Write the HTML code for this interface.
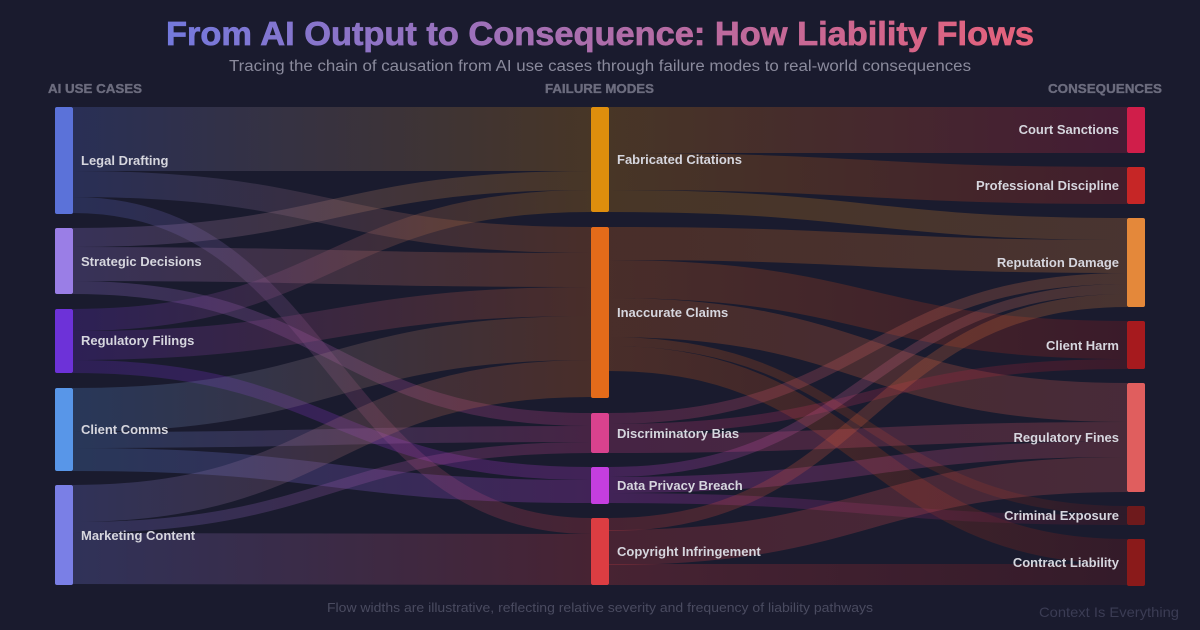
<!DOCTYPE html>
<html>
<head>
<meta charset="utf-8">
<style>
html,body{margin:0;padding:0;background:#1a1b2e;}
svg{display:block;}
text{font-family:"Liberation Sans",sans-serif;}
</style>
</head>
<body>
<svg width="1200" height="630" viewBox="0 0 1200 630" xmlns="http://www.w3.org/2000/svg">
<defs>
<linearGradient id="tg" x1="166" y1="0" x2="1034" y2="0" gradientUnits="userSpaceOnUse">
<stop offset="0" stop-color="#7479dd"/><stop offset="0.5" stop-color="#ad6dab"/><stop offset="1" stop-color="#e6617a"/>
</linearGradient>
<linearGradient id="g1" x1="73" x2="591" y1="0" y2="0" gradientUnits="userSpaceOnUse"><stop offset="0" stop-color="#5b72d9"/><stop offset="1" stop-color="#df8e0d"/></linearGradient>
<linearGradient id="g2" x1="73" x2="591" y1="0" y2="0" gradientUnits="userSpaceOnUse"><stop offset="0" stop-color="#5b72d9"/><stop offset="1" stop-color="#e46b1a"/></linearGradient>
<linearGradient id="g3" x1="73" x2="591" y1="0" y2="0" gradientUnits="userSpaceOnUse"><stop offset="0" stop-color="#5b72d9"/><stop offset="1" stop-color="#dc3d42"/></linearGradient>
<linearGradient id="g4" x1="73" x2="591" y1="0" y2="0" gradientUnits="userSpaceOnUse"><stop offset="0" stop-color="#9a7ee6"/><stop offset="1" stop-color="#df8e0d"/></linearGradient>
<linearGradient id="g5" x1="73" x2="591" y1="0" y2="0" gradientUnits="userSpaceOnUse"><stop offset="0" stop-color="#9a7ee6"/><stop offset="1" stop-color="#e46b1a"/></linearGradient>
<linearGradient id="g6" x1="73" x2="591" y1="0" y2="0" gradientUnits="userSpaceOnUse"><stop offset="0" stop-color="#9a7ee6"/><stop offset="1" stop-color="#d9428e"/></linearGradient>
<linearGradient id="g7" x1="73" x2="591" y1="0" y2="0" gradientUnits="userSpaceOnUse"><stop offset="0" stop-color="#6d32d8"/><stop offset="1" stop-color="#df8e0d"/></linearGradient>
<linearGradient id="g8" x1="73" x2="591" y1="0" y2="0" gradientUnits="userSpaceOnUse"><stop offset="0" stop-color="#6d32d8"/><stop offset="1" stop-color="#e46b1a"/></linearGradient>
<linearGradient id="g9" x1="73" x2="591" y1="0" y2="0" gradientUnits="userSpaceOnUse"><stop offset="0" stop-color="#6d32d8"/><stop offset="1" stop-color="#c43edf"/></linearGradient>
<linearGradient id="g10" x1="73" x2="591" y1="0" y2="0" gradientUnits="userSpaceOnUse"><stop offset="0" stop-color="#5896e8"/><stop offset="1" stop-color="#e46b1a"/></linearGradient>
<linearGradient id="g11" x1="73" x2="591" y1="0" y2="0" gradientUnits="userSpaceOnUse"><stop offset="0" stop-color="#5896e8"/><stop offset="1" stop-color="#d9428e"/></linearGradient>
<linearGradient id="g12" x1="73" x2="591" y1="0" y2="0" gradientUnits="userSpaceOnUse"><stop offset="0" stop-color="#5896e8"/><stop offset="1" stop-color="#c43edf"/></linearGradient>
<linearGradient id="g13" x1="73" x2="591" y1="0" y2="0" gradientUnits="userSpaceOnUse"><stop offset="0" stop-color="#7a7fe6"/><stop offset="1" stop-color="#e46b1a"/></linearGradient>
<linearGradient id="g14" x1="73" x2="591" y1="0" y2="0" gradientUnits="userSpaceOnUse"><stop offset="0" stop-color="#7a7fe6"/><stop offset="1" stop-color="#d9428e"/></linearGradient>
<linearGradient id="g15" x1="73" x2="591" y1="0" y2="0" gradientUnits="userSpaceOnUse"><stop offset="0" stop-color="#7a7fe6"/><stop offset="1" stop-color="#dc3d42"/></linearGradient>
<linearGradient id="g16" x1="609" x2="1127" y1="0" y2="0" gradientUnits="userSpaceOnUse"><stop offset="0" stop-color="#df8e0d"/><stop offset="1" stop-color="#d01e4a"/></linearGradient>
<linearGradient id="g17" x1="609" x2="1127" y1="0" y2="0" gradientUnits="userSpaceOnUse"><stop offset="0" stop-color="#df8e0d"/><stop offset="1" stop-color="#c62626"/></linearGradient>
<linearGradient id="g18" x1="609" x2="1127" y1="0" y2="0" gradientUnits="userSpaceOnUse"><stop offset="0" stop-color="#df8e0d"/><stop offset="1" stop-color="#e4883a"/></linearGradient>
<linearGradient id="g19" x1="609" x2="1127" y1="0" y2="0" gradientUnits="userSpaceOnUse"><stop offset="0" stop-color="#e46b1a"/><stop offset="1" stop-color="#e4883a"/></linearGradient>
<linearGradient id="g20" x1="609" x2="1127" y1="0" y2="0" gradientUnits="userSpaceOnUse"><stop offset="0" stop-color="#e46b1a"/><stop offset="1" stop-color="#a61a1e"/></linearGradient>
<linearGradient id="g21" x1="609" x2="1127" y1="0" y2="0" gradientUnits="userSpaceOnUse"><stop offset="0" stop-color="#e46b1a"/><stop offset="1" stop-color="#e05e5e"/></linearGradient>
<linearGradient id="g22" x1="609" x2="1127" y1="0" y2="0" gradientUnits="userSpaceOnUse"><stop offset="0" stop-color="#e46b1a"/><stop offset="1" stop-color="#6e1a1c"/></linearGradient>
<linearGradient id="g23" x1="609" x2="1127" y1="0" y2="0" gradientUnits="userSpaceOnUse"><stop offset="0" stop-color="#e46b1a"/><stop offset="1" stop-color="#8a1a1a"/></linearGradient>
<linearGradient id="g24" x1="609" x2="1127" y1="0" y2="0" gradientUnits="userSpaceOnUse"><stop offset="0" stop-color="#d9428e"/><stop offset="1" stop-color="#e4883a"/></linearGradient>
<linearGradient id="g25" x1="609" x2="1127" y1="0" y2="0" gradientUnits="userSpaceOnUse"><stop offset="0" stop-color="#d9428e"/><stop offset="1" stop-color="#a61a1e"/></linearGradient>
<linearGradient id="g26" x1="609" x2="1127" y1="0" y2="0" gradientUnits="userSpaceOnUse"><stop offset="0" stop-color="#d9428e"/><stop offset="1" stop-color="#e05e5e"/></linearGradient>
<linearGradient id="g27" x1="609" x2="1127" y1="0" y2="0" gradientUnits="userSpaceOnUse"><stop offset="0" stop-color="#c43edf"/><stop offset="1" stop-color="#e4883a"/></linearGradient>
<linearGradient id="g28" x1="609" x2="1127" y1="0" y2="0" gradientUnits="userSpaceOnUse"><stop offset="0" stop-color="#c43edf"/><stop offset="1" stop-color="#e05e5e"/></linearGradient>
<linearGradient id="g29" x1="609" x2="1127" y1="0" y2="0" gradientUnits="userSpaceOnUse"><stop offset="0" stop-color="#c43edf"/><stop offset="1" stop-color="#6e1a1c"/></linearGradient>
<linearGradient id="g30" x1="609" x2="1127" y1="0" y2="0" gradientUnits="userSpaceOnUse"><stop offset="0" stop-color="#dc3d42"/><stop offset="1" stop-color="#e4883a"/></linearGradient>
<linearGradient id="g31" x1="609" x2="1127" y1="0" y2="0" gradientUnits="userSpaceOnUse"><stop offset="0" stop-color="#dc3d42"/><stop offset="1" stop-color="#e05e5e"/></linearGradient>
<linearGradient id="g32" x1="609" x2="1127" y1="0" y2="0" gradientUnits="userSpaceOnUse"><stop offset="0" stop-color="#dc3d42"/><stop offset="1" stop-color="#8a1a1a"/></linearGradient>
</defs>

<rect x="0" y="0" width="1200" height="630" fill="#1a1b2e"/>

<text x="166" y="45" font-size="33" font-weight="bold" fill="url(#tg)" stroke="url(#tg)" stroke-width="0.7" textLength="868" lengthAdjust="spacingAndGlyphs">From AI Output to Consequence: How Liability Flows</text>
<text x="229" y="71" font-size="15.5" fill="#8a8a9c" textLength="742" lengthAdjust="spacingAndGlyphs">Tracing the chain of causation from AI use cases through failure modes to real-world consequences</text>

<g font-size="12.5" font-weight="bold" fill="#6c6c7e" stroke="#6c6c7e" stroke-width="0.35">
<text x="48" y="93" textLength="94" lengthAdjust="spacingAndGlyphs">AI USE CASES</text>
<text x="545" y="93" textLength="109" lengthAdjust="spacingAndGlyphs">FAILURE MODES</text>
<text x="1048" y="93" textLength="114" lengthAdjust="spacingAndGlyphs">CONSEQUENCES</text>
</g>

<g fill="none" stroke-opacity="0.23">
<path d="M73,139 C332,139 332,139 591,139" stroke="url(#g1)" stroke-width="64"/>
<path d="M73,184 C332,184 332,240 591,240" stroke="url(#g2)" stroke-width="26"/>
<path d="M73,205 C332,205 332,526 591,526" stroke="url(#g3)" stroke-width="16"/>
<path d="M73,237.5 C332,237.5 332,180.5 591,180.5" stroke="url(#g4)" stroke-width="19"/>
<path d="M73,264 C332,264 332,270 591,270" stroke="url(#g5)" stroke-width="34"/>
<path d="M73,287.5 C332,287.5 332,419.5 591,419.5" stroke="url(#g6)" stroke-width="13"/>
<path d="M73,320 C332,320 332,201 591,201" stroke="url(#g7)" stroke-width="22"/>
<path d="M73,345.5 C332,345.5 332,301.5 591,301.5" stroke="url(#g8)" stroke-width="29"/>
<path d="M73,366.5 C332,366.5 332,473.5 591,473.5" stroke="url(#g9)" stroke-width="13"/>
<path d="M73,410 C332,410 332,338 591,338" stroke="url(#g10)" stroke-width="44"/>
<path d="M73,440 C332,440 332,434 591,434" stroke="url(#g11)" stroke-width="16"/>
<path d="M73,459.5 C332,459.5 332,491.5 591,491.5" stroke="url(#g12)" stroke-width="23"/>
<path d="M73,503.5 C332,503.5 332,378.5 591,378.5" stroke="url(#g13)" stroke-width="37"/>
<path d="M73,527.5 C332,527.5 332,447.5 591,447.5" stroke="url(#g14)" stroke-width="11"/>
<path d="M73,558.5 C332,558.5 332,559.5 591,559.5" stroke="url(#g15)" stroke-width="51"/>

<path d="M609,130 C868,130 868,130 1127,130" stroke="url(#g16)" stroke-width="46"/>
<path d="M609,171.5 C868,171.5 868,185.5 1127,185.5" stroke="url(#g17)" stroke-width="37"/>
<path d="M609,201 C868,201 868,229 1127,229" stroke="url(#g18)" stroke-width="22"/>
<path d="M609,243.5 C868,243.5 868,256.5 1127,256.5" stroke="url(#g19)" stroke-width="33"/>
<path d="M609,279 C868,279 868,340 1127,340" stroke="url(#g20)" stroke-width="38"/>
<path d="M609,317.5 C868,317.5 868,402.5 1127,402.5" stroke="url(#g21)" stroke-width="39"/>
<path d="M609,341.5 C868,341.5 868,510.5 1127,510.5" stroke="url(#g22)" stroke-width="9"/>
<path d="M609,358.5 C868,358.5 868,551.5 1127,551.5" stroke="url(#g23)" stroke-width="25"/>
<path d="M609,418.5 C868,418.5 868,278.5 1127,278.5" stroke="url(#g24)" stroke-width="11"/>
<path d="M609,429 C868,429 868,364 1127,364" stroke="url(#g25)" stroke-width="10"/>
<path d="M609,443.5 C868,443.5 868,431.5 1127,431.5" stroke="url(#g26)" stroke-width="19"/>
<path d="M609,472 C868,472 868,289 1127,289" stroke="url(#g27)" stroke-width="10"/>
<path d="M609,485 C868,485 868,449 1127,449" stroke="url(#g28)" stroke-width="16"/>
<path d="M609,498 C868,498 868,520 1127,520" stroke="url(#g29)" stroke-width="10"/>
<path d="M609,524.5 C868,524.5 868,300.5 1127,300.5" stroke="url(#g30)" stroke-width="13"/>
<path d="M609,547.5 C868,547.5 868,474.5 1127,474.5" stroke="url(#g31)" stroke-width="35"/>
<path d="M609,574.5 C868,574.5 868,574.5 1127,574.5" stroke="url(#g32)" stroke-width="21"/>
</g>

<g>
<rect x="55" y="107" width="18" height="107" rx="2" fill="#5b72d9"/>
<rect x="55" y="228" width="18" height="66" rx="2" fill="#9a7ee6"/>
<rect x="55" y="309" width="18" height="64" rx="2" fill="#6d32d8"/>
<rect x="55" y="388" width="18" height="83" rx="2" fill="#5896e8"/>
<rect x="55" y="485" width="18" height="100" rx="2" fill="#7a7fe6"/>

<rect x="591" y="107" width="18" height="105" rx="2" fill="#df8e0d"/>
<rect x="591" y="227" width="18" height="171" rx="2" fill="#e46b1a"/>
<rect x="591" y="413" width="18" height="40" rx="2" fill="#d9428e"/>
<rect x="591" y="467" width="18" height="37" rx="2" fill="#c43edf"/>
<rect x="591" y="518" width="18" height="67" rx="2" fill="#dc3d42"/>

<rect x="1127" y="107" width="18" height="46" rx="2" fill="#d01e4a"/>
<rect x="1127" y="167" width="18" height="37" rx="2" fill="#c62626"/>
<rect x="1127" y="218" width="18" height="89" rx="2" fill="#e4883a"/>
<rect x="1127" y="321" width="18" height="48" rx="2" fill="#a61a1e"/>
<rect x="1127" y="383" width="18" height="109" rx="2" fill="#e05e5e"/>
<rect x="1127" y="506" width="18" height="19" rx="2" fill="#6e1a1c"/>
<rect x="1127" y="539" width="18" height="47" rx="2" fill="#8a1a1a"/>
</g>

<g font-size="13" font-weight="bold" fill="#d6d6de">
<text x="81" y="165">Legal Drafting</text>
<text x="81" y="266">Strategic Decisions</text>
<text x="81" y="345">Regulatory Filings</text>
<text x="81" y="434">Client Comms</text>
<text x="81" y="540">Marketing Content</text>

<text x="617" y="164">Fabricated Citations</text>
<text x="617" y="317">Inaccurate Claims</text>
<text x="617" y="438">Discriminatory Bias</text>
<text x="617" y="490">Data Privacy Breach</text>
<text x="617" y="556">Copyright Infringement</text>

<g text-anchor="end">
<text x="1119" y="134">Court Sanctions</text>
<text x="1119" y="190">Professional Discipline</text>
<text x="1119" y="267">Reputation Damage</text>
<text x="1119" y="350">Client Harm</text>
<text x="1119" y="442">Regulatory Fines</text>
<text x="1119" y="520">Criminal Exposure</text>
<text x="1119" y="567">Contract Liability</text>
</g>
</g>

<text x="327" y="612" font-size="13" fill="#4a4b60" textLength="546" lengthAdjust="spacingAndGlyphs">Flow widths are illustrative, reflecting relative severity and frequency of liability pathways</text>
<text x="1039" y="617" font-size="14" fill="#3b3c54" textLength="140" lengthAdjust="spacingAndGlyphs">Context Is Everything</text>
</svg>
</body>
</html>
